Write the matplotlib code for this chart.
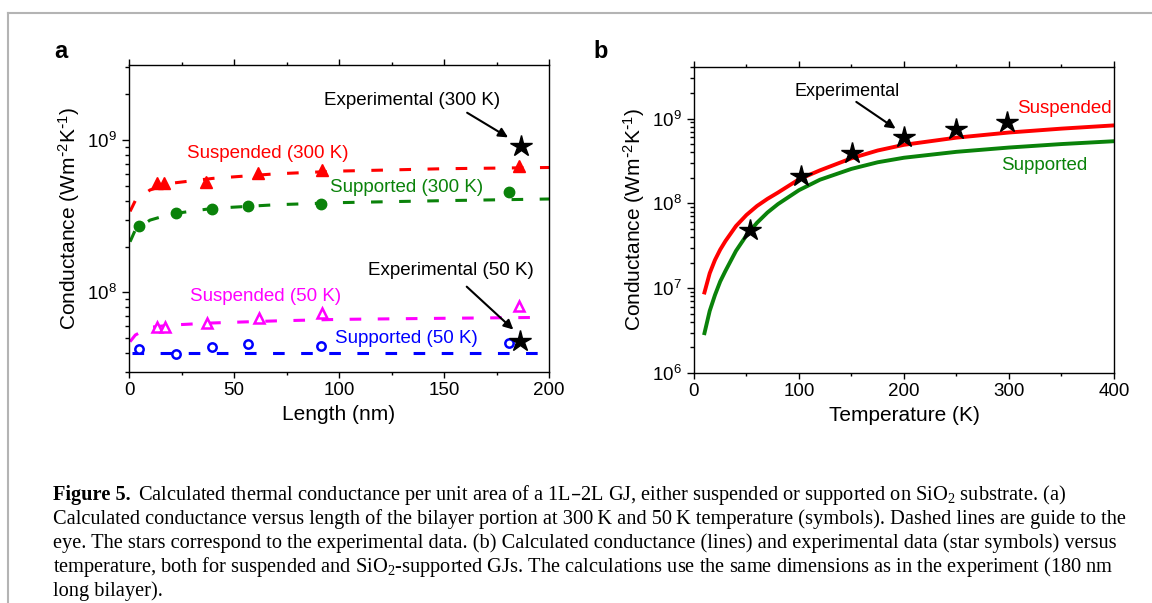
import matplotlib
matplotlib.use("Agg")
import matplotlib.pyplot as plt
from matplotlib.lines import Line2D
from matplotlib.ticker import LogLocator, MultipleLocator, NullFormatter

plt.rcParams["font.family"] = ["Liberation Sans", "DejaVu Sans"]
plt.rcParams["mathtext.default"] = "regular"

# ---- panel a: conductance vs bilayer length ----
sus300_len = [13.5, 16.7, 36.7, 61.6, 91.7, 185.7]
sus300_val = [5.25e8, 5.25e8, 5.3e8, 6.05e8, 6.35e8, 6.75e8]
sup300_len = [4.9, 22.2, 39.4, 56.8, 91.4, 181.1]
sup300_val = [2.74e8, 3.3e8, 3.52e8, 3.69e8, 3.78e8, 4.56e8]
sus50_len = [13.5, 17.0, 37.0, 61.9, 91.9, 185.7]
sus50_val = [5.9e7, 5.9e7, 6.3e7, 6.8e7, 7.35e7, 8.15e7]
sup50_len = [4.9, 22.2, 39.7, 56.8, 91.4, 181.1]
sup50_val = [4.23e7, 3.94e7, 4.38e7, 4.58e7, 4.42e7, 4.68e7]
exp_len = [186.5, 186.2]
exp_val = [9.1e8, 4.8e7]

# dashed guide-to-the-eye lines
guide_len = [0.5, 3, 10, 20, 40, 70, 100, 150, 200]
guide_sus300 = [3.4e8, 4.0e8, 4.7e8, 5.2e8, 5.6e8, 6.0e8, 6.25e8, 6.48e8, 6.6e8]
guide_sup300 = [2.15e8, 2.57e8, 2.98e8, 3.27e8, 3.56e8, 3.76e8, 3.88e8, 4.0e8, 4.1e8]
guide50_len = [0.5, 3, 10, 20, 40, 70, 100, 150, 196.5]
guide_sus50 = [4.75e7, 5.25e7, 5.9e7, 6.1e7, 6.3e7, 6.5e7, 6.65e7, 6.76e7, 6.85e7]
guide_sup50_len = [1.3, 196.5]
guide_sup50 = [4.02e7, 4.02e7]

# ---- panel b: conductance vs temperature ----
temp = [10, 15, 20, 25, 30, 40, 50, 60, 70, 80, 100, 120, 150, 175, 200, 250, 300, 350, 400]
g_suspended = [8.9e6, 1.5e7, 2.15e7, 2.85e7, 3.6e7, 5.4e7, 7.3e7, 9.3e7, 1.13e8, 1.34e8, 1.92e8,
               2.45e8, 3.4e8, 4.2e8, 4.9e8, 5.95e8, 6.84e8, 7.6e8, 8.3e8]
g_supported = [2.95e6, 5.4e6, 8.3e6, 1.2e7, 1.6e7, 2.75e7, 4.2e7, 5.9e7, 7.8e7, 9.8e7, 1.43e8,
               1.9e8, 2.55e8, 3.05e8, 3.45e8, 4.05e8, 4.55e8, 5.0e8, 5.4e8]
exp_temp = [53.3, 102, 150.6, 199.8, 249.1, 297.7]
exp_g = [4.8e7, 2.1e8, 3.95e8, 6.08e8, 7.62e8, 9.15e8]

caption_lines = [
    "Calculated thermal conductance per unit area of a 1L\u20132L GJ, either suspended or supported on SiO$_2$ substrate. (a)",
    "Calculated conductance versus length of the bilayer portion at 300\u2009K and 50\u2009K temperature (symbols). Dashed lines are guide to the",
    "eye. The stars correspond to the experimental data. (b) Calculated conductance (lines) and experimental data (star symbols) versus",
    "temperature, both for suspended and SiO$_2$-supported GJs. The calculations use the same dimensions as in the experiment (180\u2009nm",
    "long bilayer).",
]

RED = "#ff0000"
GREEN = "#0a820a"
MAGENTA = "#ff00ff"
BLUE = "#0000ff"
YLABEL = r"Conductance (Wm$^{\text{-}2}$K$^{\text{-}1}$)"


def style_axes(ax, xmajor, xminor):
    ax.set_yscale("log")
    ax.xaxis.set_major_locator(MultipleLocator(xmajor))
    ax.xaxis.set_minor_locator(MultipleLocator(xminor))
    ax.yaxis.set_major_locator(LogLocator(base=10))
    ax.yaxis.set_minor_locator(LogLocator(base=10, subs=range(2, 10)))
    ax.yaxis.set_minor_formatter(NullFormatter())
    ax.tick_params(which="both", direction="out", top=True, right=False, labelsize=13.5, width=1)
    ax.tick_params(axis="y", which="major", length=5)
    ax.tick_params(axis="y", which="minor", length=3)
    ax.tick_params(axis="x", which="major", length=4)
    ax.tick_params(axis="x", which="minor", length=2.5)
    for s in ax.spines.values():
        s.set_linewidth(1.0)


fig = plt.figure(figsize=(11.52, 6.03), dpi=100)

# panel a
ax1 = fig.add_axes([0.112, 0.383, 0.3646, 0.509])
dash = (3.8, 5.4)
ax1.plot(guide_len, guide_sus300, color=RED, lw=2.2, dashes=dash)
ax1.plot(guide_len, guide_sup300, color=GREEN, lw=2.2, dashes=dash)
ax1.plot(guide50_len, guide_sus50, color=MAGENTA, lw=2.2, dashes=dash)
ax1.plot(guide_sup50_len, guide_sup50, color=BLUE, lw=2.2, dashes=dash)
ax1.plot(sus300_len, sus300_val, "^", color=RED, ms=8, ls="none")
ax1.plot(sup300_len, sup300_val, "o", color=GREEN, ms=7.5, ls="none")
ax1.plot(sus50_len, sus50_val, "^", mfc="white", mec=MAGENTA, mew=1.8, ms=6.5, ls="none")
ax1.plot(sup50_len, sup50_val, "o", mfc="white", mec=BLUE, mew=1.8, ms=6, ls="none")
ax1.plot(exp_len, exp_val, "*", color="black", ms=16, ls="none")

ax1.text(66, 8.2e8, "Suspended (300 K)", color=RED, fontsize=13.5, ha="center", va="center")
ax1.text(132, 4.87e8, "Supported (300 K)", color=GREEN, fontsize=13.5, ha="center", va="center")
ax1.text(65, 9.46e7, "Suspended (50 K)", color=MAGENTA, fontsize=13.5, ha="center", va="center")
ax1.text(132, 5.0e7, "Supported (50 K)", color=BLUE, fontsize=13.5, ha="center", va="center")
ax1.text(134.6, 1.83e9, "Experimental (300 K)", color="black", fontsize=13.5, ha="center", va="center")
ax1.text(153.2, 1.4e8, "Experimental (50 K)", color="black", fontsize=13.5, ha="center", va="center")
arrow = dict(arrowstyle="-|>", color="black", lw=1.5, mutation_scale=14, shrinkA=0, shrinkB=0)
ax1.annotate("", xy=(180.5, 1.04e9), xytext=(161, 1.51e9), arrowprops=arrow)
ax1.annotate("", xy=(183, 5.7e7), xytext=(160.8, 1.09e8), arrowprops=arrow)

ax1.set_xlim(0, 200)
ax1.set_ylim(3e7, 3.1e9)
style_axes(ax1, 50, 25)
ax1.set_xlabel("Length (nm)", fontsize=15)
ax1.set_ylabel(YLABEL, fontsize=15)

# panel b
ax2 = fig.add_axes([0.6024, 0.3814, 0.3646, 0.5075])
ax2.plot(temp, g_suspended, color=RED, lw=2.8)
ax2.plot(temp, g_supported, color=GREEN, lw=2.8)
ax2.plot(exp_temp, exp_g, "*", color="black", ms=16, ls="none")
ax2.text(146, 2.1e9, "Experimental", fontsize=13, ha="center", va="center")
ax2.annotate("", xy=(192, 7.6e8), xytext=(154.6, 1.57e9), arrowprops=arrow)
ax2.text(353, 1.31e9, "Suspended", color=RED, fontsize=13.5, ha="center", va="center")
ax2.text(334, 2.77e8, "Supported", color=GREEN, fontsize=13.5, ha="center", va="center")

ax2.set_xlim(0, 400)
ax2.set_ylim(1e6, 4.05e9)
style_axes(ax2, 100, 50)
ax2.set_xlabel("Temperature (K)", fontsize=15)
ax2.set_ylabel(YLABEL, fontsize=15)

fig.text(61 / 1152, 1 - 52 / 603, "a", fontsize=17, fontweight="bold", ha="center", va="center")
fig.text(601 / 1152, 1 - 52 / 603, "b", fontsize=17, fontweight="bold", ha="center", va="center")

# gray frame lines
fig.add_artist(Line2D([8 / 1152, 8 / 1152], [0, 1 - 13 / 603], color="#b4b4b4", lw=1.5))
fig.add_artist(Line2D([8 / 1152, 1], [1 - 13 / 603, 1 - 13 / 603], color="#b4b4b4", lw=1.5))

# caption
serif = ["Liberation Serif", "DejaVu Serif"]
cap_size = 14.7
cap_y = [495, 519, 543, 567, 591]
fig.text(53 / 1152, 1 - cap_y[0] / 603, "Figure 5.", fontsize=cap_size, fontweight="bold",
         family=serif, ha="left", va="center")
fig.text(138 / 1152, 1 - cap_y[0] / 603, caption_lines[0], fontsize=cap_size,
         family=serif, ha="left", va="center")
for line, y in zip(caption_lines[1:], cap_y[1:]):
    fig.text(53 / 1152, 1 - y / 603, line, fontsize=cap_size, family=serif, ha="left", va="center")

fig.savefig("out.png", dpi=100)
